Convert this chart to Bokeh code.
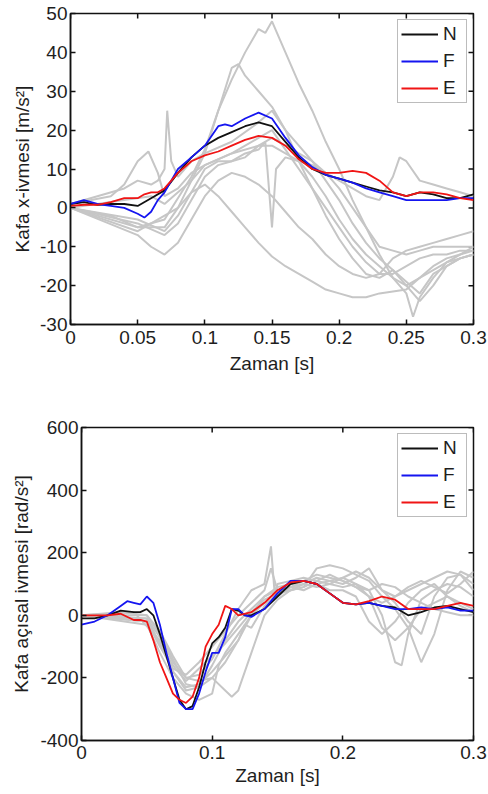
import math
from bokeh.plotting import figure
from bokeh.layouts import column
from bokeh.models import FixedTicker, Legend, LegendItem
from bokeh.embed import file_html
from bokeh.resources import INLINE

# ---------------- data: top panel (head x-acceleration, m/s^2) ----------------
ax_N_t = [0, .01, .02, .03, .04, .05, .06, .07, .08, .09, .10, .11, .12, .13, .14, .15, .16, .17, .18, .19, .20, .21, .22, .23, .24, .25, .26, .27, .28, .29, .30]
ax_N_y = [1, 1.5, 0.8, 1, 1, 0.5, 2.5, 4.5, 9, 13, 16, 18, 19.5, 21, 22, 21, 17, 13, 10, 8.5, 7.5, 6.5, 5.5, 4.5, 4, 3, 4, 3.5, 2.5, 2.5, 3.5]
ax_F_t = [0, .01, .02, .03, .04, .05, .055, .06, .065, .07, .08, .09, .10, .11, .115, .12, .13, .14, .15, .16, .17, .18, .19, .20, .21, .22, .23, .24, .25, .26, .27, .28, .29, .30]
ax_F_y = [1, 2, 1, 0.5, 0, -1.5, -2.5, -1, 2, 4, 10, 13, 16, 21, 21.5, 21, 23, 24.5, 23, 18, 13.5, 10.5, 8.5, 7.5, 6.5, 5, 4, 3, 2, 2, 2, 2, 2.5, 2.5]
ax_E_t = [0, .01, .02, .03, .04, .05, .055, .06, .065, .07, .08, .09, .10, .11, .12, .13, .14, .15, .16, .17, .18, .19, .20, .21, .22, .23, .24, .25, .26, .27, .28, .29, .30]
ax_E_y = [0.5, 0.8, 0.8, 1.5, 2.5, 2.5, 3.5, 4, 4, 5, 9, 12, 13.5, 14.5, 16, 17.5, 18.5, 18, 16, 12.5, 10, 9, 9, 9.5, 9, 7, 4, 3, 4, 4, 3.5, 2.5, 2]

ax_g1_t = [0, .05, .07, .09, .10, .11, .12, .13, .14, .145, .15, .16, .17, .18, .19, .20, .21, .22, .23, .24, .25, .255, .26, .27, .28, .29, .30]
ax_g1_y = [0, -5, -3, 8, 15, 25, 33, 40, 46, 45, 48, 40, 32, 25, 17, 10, 2, -5, -12, -18, -22, -28, -23, -18, -14, -12, -11]
ax_g2_t = [0, .05, .08, .10, .11, .12, .125, .13, .14, .15, .16, .17, .18, .19, .20, .21, .22, .23, .24, .25, .26, .27, .28, .29, .30]
ax_g2_y = [0, -6, 0, 14, 25, 36, 37, 34, 30, 26, 20, 12, 5, -2, -8, -13, -17, -18, -16, -19, -22, -17, -15, -13, -12]
ax_g3_t = [0, .04, .05, .06, .065, .07, .072, .075, .08, .09, .10, .12, .14, .15, .16, .17, .18, .19, .20, .21, .22, .23, .24, .25, .26, .27, .28, .29, .30]
ax_g3_y = [1, 5, 7, 6, 7, 10, 25, 12, 8, 12, 14, 17, 22, 25, 20, 16, 12, 7, 2, -4, -9, -13, -16, -20, -18, -15, -13, -12, -10]
ax_g4_t = [0, .03, .04, .05, .058, .065, .07, .08, .09, .10, .12, .14, .15, .16, .17, .18, .19, .20, .21, .22, .23, .24, .245, .25, .26, .27, .28, .29, .30]
ax_g4_y = [1, 3, 6, 12, 14.5, 9, 3, 5, 9, 11, 14, 16, 16, 14, 12, 11, 9, 7, 5, 3, 2, 8, 13, 12, 7, 6, 5, 4, 3]
ax_g5_t = [0, .03, .05, .07, .08, .09, .10, .11, .12, .13, .14, .15, .16, .17, .18, .19, .20, .21, .22, .23, .24, .25, .26, .27, .28, .29, .30]
ax_g5_y = [0, -2, -5, -5, 0, 4, 6, 3, -1, -5, -9, -12.5, -15, -17, -19, -21, -22, -23, -23, -22, -21.5, -21, -18, -16, -14, -13, -12]
ax_g6_t = [0, .05, .06, .07, .08, .09, .10, .11, .12, .13, .14, .15, .16, .17, .18, .19, .20, .21, .22, .23, .24, .25, .26, .27, .28, .29, .30]
ax_g6_y = [0, -7, -10, -12, -9, -3, 3, 7, 9, 8, 6, 3, -1, -5, -8, -12, -15, -17, -18, -17, -13, -11, -10, -9, -8, -7, -6]
ax_g7_t = [0, .05, .07, .08, .09, .10, .11, .12, .13, .14, .145, .15, .153, .16, .17, .18, .19, .20, .21, .22, .23, .24, .25, .26, .27, .28, .29, .30]
ax_g7_y = [0, -4, -7, -4, 2, 8, 11, 12, 14, 15, 17, -5, 10, 13, 12, 8, 3, -3, -8, -12, -15, -18, -20, -24, -20, -15, -13, -12]
ax_g8_t = [0, .05, .07, .08, .09, .10, .11, .12, .13, .14, .15, .16, .17, .18, .19, .20, .21, .22, .23, .24, .25, .26, .27, .28, .29, .30]
ax_g8_y = [0, -3, -6, -2, 4, 10, 12, 12, 13, 16, 18, 16, 14, 12, 9, 5, 0, -5, -10, -11, -12, -11, -10, -10, -10, -10]
ax_g9_t = [0, .04, .06, .07, .08, .09, .10, .12, .14, .15, .16, .17, .18, .19, .20, .21, .22, .23, .24, .25, .26, .27, .28, .29, .30]
ax_g9_y = [0, 2, 3, 1, 4, 7, 11, 14, 18, 20, 15, 10, 5, 0, -5, -10, -14, -17, -17, -15, -13, -12, -12, -11, -11]

# ---------------- data: bottom panel (head angular acceleration, rad/s^2) ----------------
aa_N_t = [0, .01, .02, .03, .04, .045, .05, .055, .06, .065, .07, .075, .08, .085, .09, .095, .10, .105, .11, .115, .12, .125, .13, .14, .15, .16, .17, .18, .19, .20, .21, .22, .23, .24, .25, .26, .27, .28, .29, .30]
aa_N_y = [-10, -10, 0, 15, 10, 10, 20, 0, -60, -130, -200, -270, -300, -290, -230, -150, -90, -70, -40, 20, 15, 0, 0, 20, 60, 100, 110, 100, 70, 40, 35, 40, 30, 25, 0, 10, 25, 30, 20, 10]
aa_F_t = [0, .01, .02, .03, .035, .04, .045, .05, .055, .06, .065, .07, .075, .08, .085, .09, .095, .10, .105, .11, .115, .12, .125, .13, .14, .15, .16, .17, .18, .19, .20, .21, .22, .23, .24, .25, .26, .27, .28, .29, .30]
aa_F_y = [-30, -20, 0, 30, 45, 40, 35, 60, 40, -30, -120, -200, -280, -300, -300, -250, -180, -120, -120, -70, 20, 20, 0, -5, 20, 70, 110, 110, 100, 70, 40, 35, 40, 30, 20, 20, 25, 20, 25, 15, 15]
aa_E_t = [0, .01, .02, .03, .04, .045, .05, .055, .06, .065, .07, .075, .08, .085, .09, .095, .10, .105, .11, .115, .12, .13, .14, .15, .16, .17, .18, .19, .20, .21, .22, .23, .24, .25, .26, .27, .28, .29, .30]
aa_E_y = [0, 0, 0, 5, -15, -15, -20, -80, -150, -200, -250, -270, -280, -260, -200, -100, -60, -30, 30, 20, 0, 10, 40, 80, 105, 110, 100, 70, 40, 35, 45, 60, 50, 20, 20, 20, 30, 40, 30]

aa_g1_t = [0, .03, .05, .06, .07, .08, .09, .10, .11, .12, .13, .14, .145, .148, .15, .16, .17, .18, .19, .20, .21, .22, .23, .24, .245, .25, .26, .27, .28, .29, .30]
aa_g1_y = [0, 10, 0, -50, -130, -200, -190, -140, -60, 20, 80, 100, 220, 60, 100, 110, 120, 110, 100, 90, 100, 80, 0, -150, -160, -60, 50, 80, 100, 90, 60]
aa_g2_t = [0, .04, .06, .07, .08, .09, .10, .11, .115, .12, .13, .14, .15, .16, .17, .18, .19, .20, .21, .22, .23, .24, .25, .26, .27, .28, .29, .30]
aa_g2_y = [0, 10, -80, -180, -240, -230, -200, -240, -260, -240, -120, 0, 50, 80, 90, 150, 160, 150, 130, 110, 60, 20, -40, -150, -60, 80, 140, 120]
aa_g3_t = [0, .05, .06, .07, .08, .09, .10, .11, .12, .13, .14, .145, .15, .16, .17, .18, .19, .20, .21, .22, .23, .24, .25, .26, .27, .28, .29, .30]
aa_g3_y = [0, -20, -100, -170, -190, -150, -100, -50, 0, 40, 80, 150, 80, 90, 100, 120, 110, 100, 120, 150, 80, 40, -20, -60, 60, 120, 130, 100]
aa_g4_t = [0, .05, .06, .07, .08, .09, .10, .11, .12, .13, .14, .15, .16, .17, .18, .19, .20, .21, .22, .23, .24, .25, .26, .27, .28, .29, .30]
aa_g4_y = [0, -10, -90, -160, -210, -170, -130, -90, -40, 10, 50, 70, 80, 100, 90, 100, 120, 100, 60, -40, -80, -40, 20, 40, 60, 40, 20]
aa_g5_t = [0, .05, .06, .07, .08, .09, .10, .105, .11, .12, .13, .14, .15, .16, .17, .18, .19, .20, .21, .22, .23, .24, .25, .26, .27, .28, .29, .30]
aa_g5_y = [0, -30, -120, -200, -250, -270, -250, -160, -120, -60, 0, 40, 60, 90, 110, 130, 120, 110, 90, 60, 40, 60, 80, 100, 120, 140, 130, 80]
aa_g6_t = [0, .05, .06, .07, .08, .09, .10, .11, .12, .13, .14, .15, .16, .17, .18, .19, .20, .21, .22, .23, .24, .25, .26, .27, .28, .29, .30]
aa_g6_y = [0, -10, -70, -150, -200, -210, -200, -150, -80, 0, 60, 90, 100, 110, 100, 80, 80, 60, -20, -60, -20, 40, 80, 100, 60, 30, 10]
aa_g7_t = [0, .05, .06, .07, .08, .09, .10, .11, .12, .13, .14, .15, .16, .17, .18, .19, .20, .21, .22, .23, .24, .25, .26, .27, .28, .29, .30]
aa_g7_y = [0, 0, -60, -140, -220, -230, -160, -80, -20, 20, 60, 80, 90, 80, 100, 110, 120, 140, 120, 80, 60, 90, 110, 90, 70, 100, 140]
aa_g8_t = [0, .05, .06, .07, .08, .09, .10, .11, .12, .125, .13, .14, .15, .16, .17, .18, .19, .20, .21, .22, .23, .24, .25, .26, .27, .28, .29, .30]
aa_g8_y = [0, -20, -90, -180, -230, -220, -180, -130, -80, -30, -40, 30, 70, 80, 90, 110, 130, 110, 90, 80, 100, 90, 60, 40, 20, 10, 0, 0]

# ---------------- ticks / labels ----------------
top_xticks = [0, 0.05, 0.1, 0.15, 0.2, 0.25, 0.3]
top_xlabels = ["0", "0.05", "0.1", "0.15", "0.2", "0.25", "0.3"]
top_yticks = [-30, -20, -10, 0, 10, 20, 30, 40, 50]
top_ylabels = ["-30", "-20", "-10", "0", "10", "20", "30", "40", "50"]
bot_xticks = [0, 0.1, 0.2, 0.3]
bot_xlabels = ["0", "0.1", "0.2", "0.3"]
bot_yticks = [-400, -200, 0, 200, 400, 600]
bot_ylabels = ["-400", "-200", "0", "200", "400", "600"]
series_names = ["N", "F", "E"]
series_colors = ["#111111", "#1515f0", "#f01515"]
gray = "#c6c6c6"

FONT = "Liberation Sans"
TXT = "#1e1e1e"
FS = "19px"


def style_axis(ax, ticks, labels):
    ax.ticker = FixedTicker(ticks=ticks)
    ax.major_label_overrides = {t: l for t, l in zip(ticks, labels)}
    ax.major_tick_in = 5
    ax.major_tick_out = 0
    ax.minor_tick_in = 0
    ax.minor_tick_out = 0
    ax.axis_line_color = "#111111"
    ax.axis_line_width = 1.5
    ax.major_tick_line_color = "#111111"
    ax.major_tick_line_width = 1.5
    ax.major_label_text_font = FONT
    ax.major_label_text_color = TXT
    ax.major_label_text_font_size = FS
    ax.axis_label_text_font = FONT
    ax.axis_label_text_font_style = "normal"
    ax.axis_label_text_color = TXT
    ax.axis_label_text_font_size = FS


def make_panel(xr, yr, xt, xl, yt, yl, ylabel, h, bl, bt, bb, br,
               ytick_so, ylab_so, xtick_so, xlab_so, gray_curves, main_curves):
    p = figure(width=488, height=h, x_range=xr, y_range=yr,
               output_backend="svg", toolbar_location=None,
               min_border_left=bl, min_border_top=bt, min_border_bottom=bb, min_border_right=br,
               background_fill_color="white", border_fill_color="white")
    p.grid.visible = False
    p.outline_line_color = "#111111"
    p.outline_line_width = 1.5
    style_axis(p.xaxis[0], xt, xl)
    style_axis(p.yaxis[0], yt, yl)
    p.yaxis[0].major_label_standoff = ytick_so
    p.yaxis[0].axis_label_standoff = ylab_so
    p.xaxis[0].major_label_standoff = xtick_so
    p.xaxis[0].axis_label_standoff = xlab_so
    p.xaxis[0].axis_label = "Zaman [s]"
    p.yaxis[0].axis_label = ylabel
    # mirrored inward tick marks on the top and right frame edges
    p.ray(x=xt, y=[yr[1]] * len(xt), length=5, length_units="screen",
          angle=-math.pi / 2, line_color="#111111", line_width=1.5)
    p.ray(x=[xr[1]] * len(yt), y=yt, length=5, length_units="screen",
          angle=math.pi, line_color="#111111", line_width=1.5)
    for t, y in gray_curves:
        p.line(t, y, line_color=gray, line_width=2)
    items = []
    for (t, y), name, col in zip(main_curves, series_names, series_colors):
        r = p.line(t, y, line_color=col, line_width=1.8)
        items.append(LegendItem(label=name, renderers=[r]))
    leg = Legend(items=items, location="top_right", margin=6, padding=3,
                 spacing=5, glyph_width=37, glyph_height=20, label_height=20,
                 label_standoff=5, label_text_font=FONT, label_text_font_size=FS,
                 label_text_color=TXT, border_line_color="#7a7a7a", border_line_width=1,
                 background_fill_alpha=1.0)
    p.add_layout(leg, "center")
    return p


p1 = make_panel((0, 0.3), (-30, 50), top_xticks, top_xlabels, top_yticks, top_ylabels,
                "Kafa x-ivmesi [m/s²]", 400, 70, 13, 76, 15,
                3, 4, 6, 6,
                [(ax_g1_t, ax_g1_y), (ax_g2_t, ax_g2_y), (ax_g3_t, ax_g3_y), (ax_g4_t, ax_g4_y),
                 (ax_g5_t, ax_g5_y), (ax_g6_t, ax_g6_y), (ax_g7_t, ax_g7_y), (ax_g8_t, ax_g8_y),
                 (ax_g9_t, ax_g9_y)],
                [(ax_N_t, ax_N_y), (ax_F_t, ax_F_y), (ax_E_t, ax_E_y)])

p2 = make_panel((0, 0.3), (-400, 600), bot_xticks, bot_xlabels, bot_yticks, bot_ylabels,
                "Kafa açısal ivmesi [rad/s²]", 394, 81, 27, 54, 15,
                3, 5, 5, 3,
                [(aa_g1_t, aa_g1_y), (aa_g2_t, aa_g2_y), (aa_g3_t, aa_g3_y), (aa_g4_t, aa_g4_y),
                 (aa_g5_t, aa_g5_y), (aa_g6_t, aa_g6_y), (aa_g7_t, aa_g7_y), (aa_g8_t, aa_g8_y)],
                [(aa_N_t, aa_N_y), (aa_F_t, aa_F_y), (aa_E_t, aa_E_y)])

# each plot in its own column so the two frames are not forced into alignment
layout = column(column(p1), column(p2), spacing=0)
open("out.html", "w").write(file_html(layout, INLINE))
